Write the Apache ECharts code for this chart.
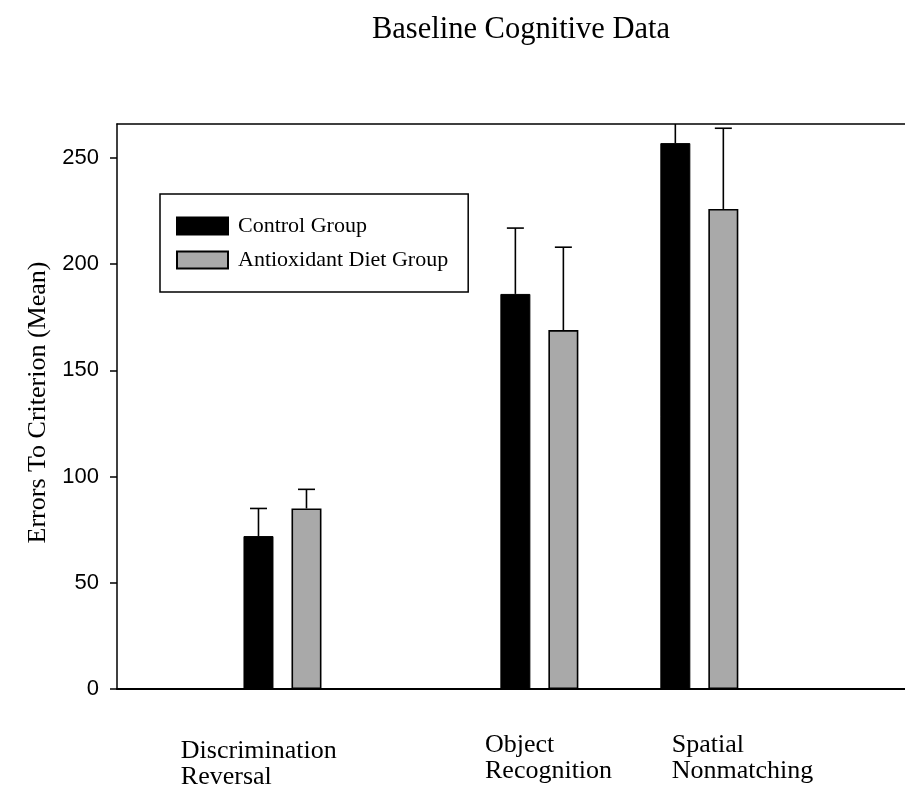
<!DOCTYPE html>
<html>
<head>
<meta charset="utf-8">
<script src="https://cdn.jsdelivr.net/npm/echarts@6/dist/echarts.min.js"></script>
<style>
html,body{margin:0;padding:0;background:#fff;}
#chart{width:905px;height:791px;}
</style>
</head>
<body>
<div id="chart"></div>
<script>
// ---- data ----
var titleText = 'Baseline Cognitive Data';
var yAxisTitle = 'Errors To Criterion (Mean)';
var seriesNames = ['Control Group', 'Antioxidant Diet Group'];
var categories = ['Discrimination\nReversal', 'Object\nRecognition', 'Spatial\nNonmatching'];
var groupX = [2.10, 5.36, 7.39];          // group centres on the (hidden) x scale
var labelX = [0.81, 4.67, 7.04];          // where each category caption starts
var controlMean = [72, 186, 257];
var controlErr = [13, 31, 18];
var antioxMean = [85, 169, 226];
var antioxErr = [9, 39, 38];
var yTicks = [0, 50, 100, 150, 200, 250];

var xMin = 0, xMax = 10, yMin = 0, yMax = 266;

function pairs(xs, ys) { return xs.map(function (x, i) { return [x, ys[i]]; }); }
function triples(xs, ys, es) { return xs.map(function (x, i) { return [x, ys[i], es[i]]; }); }

var BAR_W = 30, BAR_GAP = 18, HALF = (BAR_W + BAR_GAP) / 2, CAP = 17;

function errRender(sign) {
  return function (params, api) {
    var x = api.value(0), y = api.value(1), e = api.value(2);
    var p0 = api.coord([x, y]);
    var p1 = api.coord([x, y + e]);
    var cx = p0[0] + sign * HALF;
    var st = { stroke: '#000', lineWidth: 1.6 };
    return {
      type: 'group',
      children: [
        { type: 'line', shape: { x1: cx, y1: p0[1], x2: cx, y2: p1[1] }, style: st },
        { type: 'line', shape: { x1: cx - CAP / 2, y1: p1[1], x2: cx + CAP / 2, y2: p1[1] }, style: st }
      ]
    };
  };
}

var chart = echarts.init(document.getElementById('chart'), null, { renderer: 'canvas' });
var option = {
  animation: false,
  backgroundColor: '#fff',
  title: {
    text: titleText,
    left: 516,
    textAlign: 'center',
    top: 9,
    textStyle: { fontFamily: 'Liberation Serif', fontSize: 30.5, fontWeight: 'normal', color: '#000' }
  },
  legend: {
    orient: 'vertical',
    left: 160,
    top: 194,
    align: 'left',
    data: seriesNames,
    icon: 'rect',
    itemWidth: 51,
    itemHeight: 17,
    itemGap: 12,
    padding: [21, 20, 21, 16],
    borderColor: '#000',
    borderWidth: 1.5,
    backgroundColor: '#fff',
    textStyle: { fontFamily: 'Liberation Serif', fontSize: 22, color: '#000', lineHeight: 17, padding: [0, 0, 0, 5] }
  },
  grid: { left: 117, right: 0, top: 124, bottom: 102, containLabel: false },
  xAxis: [
    {
      type: 'value', min: xMin, max: xMax, position: 'bottom',
      axisLine: { show: true, lineStyle: { color: '#000', width: 2 } },
      axisTick: { show: false },
      splitLine: { show: false },
      axisLabel: {
        show: true,
        customValues: labelX,
        align: 'left',
        verticalAlign: 'top',
        margin: 43,
        fontFamily: 'Liberation Serif',
        fontSize: 26,
        lineHeight: 26,
        color: '#000',
        formatter: function (v) {
          var i = labelX.indexOf(v);
          if (i < 0) return '';
          var lines = categories[i].split('\n');
          if (i === 0) return '{a|' + lines[0] + '}\n{b|' + lines[1] + '}';
          return '{c|' + lines[0] + '}\n{c|' + lines[1] + '}';
        },
        rich: {
          a: { fontFamily: 'Liberation Serif', fontSize: 26, lineHeight: 38, color: '#000' },
          b: { fontFamily: 'Liberation Serif', fontSize: 26, lineHeight: 14, color: '#000' },
          c: { fontFamily: 'Liberation Serif', fontSize: 26, lineHeight: 26, color: '#000' }
        }
      }
    },
    {
      type: 'value', min: xMin, max: xMax, position: 'top',
      axisLine: { show: true, lineStyle: { color: '#000', width: 1.5 } },
      axisTick: { show: false }, axisLabel: { show: false }, splitLine: { show: false }
    }
  ],
  yAxis: {
    type: 'value', min: yMin, max: yMax, interval: 50,
    name: yAxisTitle,
    nameLocation: 'middle',
    nameRotate: 90,
    nameGap: 65,
    nameTextStyle: { fontFamily: 'Liberation Serif', fontSize: 26, color: '#000', padding: [0, 0, 0, 8] },
    axisLine: { show: true, lineStyle: { color: '#000', width: 1.5 } },
    axisTick: { show: true, length: 7, inside: false, lineStyle: { color: '#000', width: 1.5 },
      customValues: yTicks },
    axisLabel: { customValues: yTicks, margin: 18, fontFamily: 'Liberation Sans', fontSize: 22, color: '#000' },
    splitLine: { show: false }
  },
  series: [
    {
      name: seriesNames[0], type: 'bar', xAxisIndex: 0,
      barWidth: BAR_W, barGap: (BAR_GAP / BAR_W * 100) + '%',
      data: pairs(groupX, controlMean),
      itemStyle: { color: '#000', borderColor: '#000', borderWidth: 1 },
      z: 2
    },
    {
      name: seriesNames[1], type: 'bar', xAxisIndex: 0,
      barWidth: BAR_W, barGap: (BAR_GAP / BAR_W * 100) + '%',
      data: pairs(groupX, antioxMean),
      itemStyle: { color: '#a9a9a9', borderColor: '#000', borderWidth: 1.6 },
      z: 2
    },
    {
      type: 'custom', xAxisIndex: 0, clip: true,
      renderItem: errRender(-1),
      data: triples(groupX, controlMean, controlErr),
      z: 3, silent: true
    },
    {
      type: 'custom', xAxisIndex: 0, clip: true,
      renderItem: errRender(1),
      data: triples(groupX, antioxMean, antioxErr),
      z: 3, silent: true
    }
  ]
};
chart.setOption(option);
</script>
</body>
</html>
